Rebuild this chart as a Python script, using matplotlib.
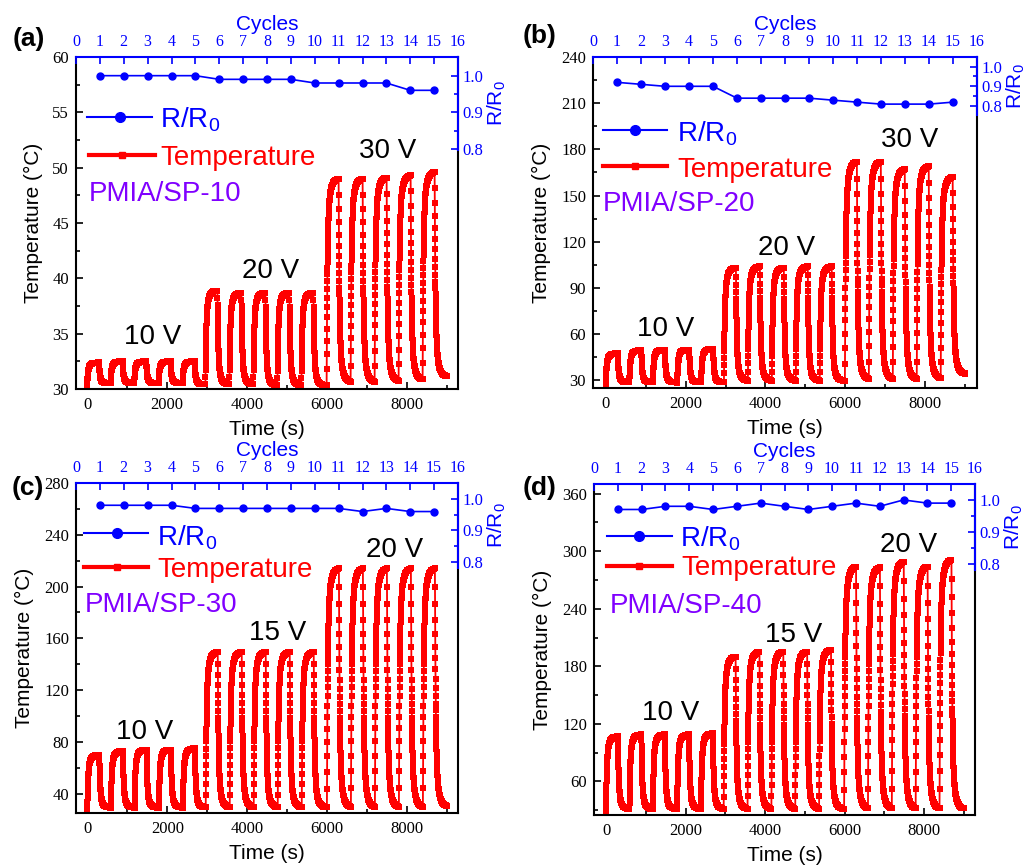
import numpy as np
import matplotlib
matplotlib.use("Agg")
import matplotlib.pyplot as plt
from matplotlib.lines import Line2D
from matplotlib.ticker import MultipleLocator, FixedLocator, FormatStrFormatter

plt.rcParams['font.family'] = ['Liberation Serif', 'DejaVu Serif']
plt.rcParams['axes.unicode_minus'] = False

# ---------------- data ----------------
cycles = list(range(1, 16))
cycle_ticks = list(range(0, 17))

# switch-on times of the 15 heating cycles (s), heating duration and end of record
start_times = [0, 590, 1180, 1790, 2390, 2960, 3560, 4160, 4760, 5360,
               5990, 6590, 7190, 7790, 8390]
heat_duration = 300
end_time = 9000

# R/R0 per cycle
rr_a = [1.00, 1.00, 1.00, 1.00, 1.00, 0.99, 0.99, 0.99, 0.99, 0.98, 0.98, 0.98, 0.98, 0.96, 0.96]
rr_b = [0.92, 0.91, 0.90, 0.90, 0.90, 0.84, 0.84, 0.84, 0.84, 0.83, 0.82, 0.81, 0.81, 0.81, 0.82]
rr_c = [0.98, 0.98, 0.98, 0.98, 0.97, 0.97, 0.97, 0.97, 0.97, 0.97, 0.97, 0.96, 0.97, 0.96, 0.96]
rr_d = [0.97, 0.97, 0.98, 0.98, 0.97, 0.98, 0.99, 0.98, 0.97, 0.98, 0.99, 0.98, 1.00, 0.99, 0.99]

# temperature: initial value, peak of each cycle, value reached at end of each cooling
t0_a = 30.0
peak_a = [32.4, 32.5, 32.5, 32.5, 32.5, 38.9, 38.7, 38.7, 38.7, 38.7, 49.0, 49.0, 49.1, 49.3, 49.6]
floor_a = [30.5, 30.5, 30.5, 30.5, 30.4, 30.4, 30.4, 30.3, 30.3, 30.3, 30.6, 30.6, 30.7, 30.8, 31.1]

t0_b = 27.0
peak_b = [47.5, 49.5, 50.0, 50.0, 50.5, 103, 104, 103, 104, 104, 172, 172, 167, 169, 162]
floor_b = [28.5, 28.5, 28.5, 28.5, 28.5, 29.5, 29.5, 29.5, 29.5, 29.5, 30.5, 30.5, 30.5, 31.0, 34.0]

t0_c = 27.0
peak_c = [70, 73, 74, 74, 75, 149.5, 149.5, 149.5, 149.5, 149.5, 214, 214, 214, 214, 214]
floor_c = [29, 29, 29, 29, 29, 29, 29, 29, 29, 29, 29, 29, 29, 29, 30]

t0_d = 26.0
peak_d = [107, 109, 109, 109, 110, 190, 195, 195, 195, 197, 284, 283, 289, 284, 291]
floor_d = [31, 31, 31, 31, 31, 31, 31, 31, 31, 31, 31, 31, 31, 31, 31]

panel_tags = ['(a)', '(b)', '(c)', '(d)']
sample_names = ['PMIA/SP-10', 'PMIA/SP-20', 'PMIA/SP-30', 'PMIA/SP-40']
volt_labels = [['10 V', '20 V', '30 V'], ['10 V', '20 V', '30 V'],
               ['10 V', '15 V', '20 V'], ['10 V', '15 V', '20 V']]
volt_pos = [[(1637, 34.7), (4595, 40.65), (7525, 51.5)],
            [(1499, 63.1), (4529, 116.0), (7619, 185.8)],
            [(1442, 87.7), (4755, 163.8), (7693, 228)],
            [(1630, 131.2), (4730, 212.9), (7623, 306)]]


def build_trace(starts, peaks, floors, temp0, heat, t_end, dt=2.0,
                tau_fast=20.0, tau_slow=70.0, w_fast=0.75):
    """Sampled heating/cooling record from per-cycle peak and end values."""
    ts, Ts = [], []
    prev = temp0
    for i, (s, pk, fl) in enumerate(zip(starts, peaks, floors)):
        nxt = starts[i + 1] if i + 1 < len(starts) else t_end
        th = np.arange(0, heat, dt)
        rise = 1 - w_fast * np.exp(-th / tau_fast) - (1 - w_fast) * np.exp(-th / tau_slow)
        rise = rise / rise[-1]
        Th = prev + (pk - prev) * rise
        tc = np.arange(0, nxt - s - heat, dt)
        fall = w_fast * np.exp(-tc / tau_fast) + (1 - w_fast) * np.exp(-tc / tau_slow)
        Tc = fl + (pk - fl) * fall
        ts.append(s + th)
        Ts.append(Th)
        ts.append(s + heat + tc)
        Ts.append(Tc)
        prev = Tc[-1]
    return np.concatenate(ts), np.concatenate(Ts)


# ---------------- layout ----------------
W, H = 1027, 866
fig = plt.figure(figsize=(W / 100, H / 100), dpi=100)
BLUE = '#0000FF'
RED = '#FF0000'
PURPLE = '#8000FF'
SANS = 'Liberation Sans'


def frac_rect(x0, y0, x1, y1):
    return [x0 / W, 1 - y1 / H, (x1 - x0) / W, (y1 - y0) / H]


def fx(x):
    return x / W


def fy(y):
    return 1 - y / H


panels = [
    dict(box=(76, 57, 458, 389), xlim=(-275, 9275), ylim=(30, 60), ymaj=5, ymin=2.5,
         rr_bottom=150, rr_ylim=(0.797, 1.051), data=(t0_a, peak_a, floor_a), rr=rr_a,
         leg=dict(rl=(87, 152, 117, 120), rt=(160, 128), tl=(89, 155, 155, 122), tt=(160, 165), pm=(89, 201)),
         tag=(13, 39)),
    dict(box=(593, 57, 977, 388), xlim=(-320, 9300), ylim=(25, 240), ymaj=30, ymin=15,
         rr_bottom=115, rr_ylim=(0.755, 1.048), data=(t0_b, peak_b, floor_b), rr=rr_b,
         leg=dict(rl=(603, 667, 130, 635), rt=(677, 141.7), tl=(603, 667, 165.7, 635), tt=(677, 176.7), pm=(603, 211)),
         tag=(523, 36)),
    dict(box=(76, 483, 458, 813), xlim=(-283, 9268), ylim=(25, 280), ymaj=40, ymin=20,
         rr_bottom=568, rr_ylim=(0.78, 1.051), data=(t0_c, peak_c, floor_c), rr=rr_c,
         leg=dict(rl=(84, 148, 533.3, 116.7), rt=(157, 545), tl=(84, 148, 566.7, 116.7), tt=(157, 576.7), pm=(85, 611.7)),
         tag=(12, 487.5)),
    dict(box=(594, 484, 975, 815), xlim=(-302, 9283), ylim=(25, 370), ymaj=60, ymin=30,
         rr_bottom=570, rr_ylim=(0.78, 1.05), data=(t0_d, peak_d, floor_d), rr=rr_d,
         leg=dict(rl=(607, 672, 536, 639), rt=(680, 546.7), tl=(607, 672, 566, 639), tt=(681, 575), pm=(610, 613.3)),
         tag=(523, 487.5)),
]

for k, p in enumerate(panels):
    x0, y0, x1, y1 = p['box']
    ax = fig.add_axes(frac_rect(x0, y0, x1, y1))
    temp0, peaks, floors = p['data']
    t, T = build_trace(start_times, peaks, floors, temp0, heat_duration, end_time)
    ax.plot(t, T, color=RED, lw=1.3, marker='s', ms=5.0, mew=0, zorder=2)
    ax.set_xlim(*p['xlim'])
    ax.set_ylim(*p['ylim'])
    ax.xaxis.set_major_locator(MultipleLocator(2000))
    ax.xaxis.set_minor_locator(MultipleLocator(1000))
    ax.yaxis.set_major_locator(MultipleLocator(p['ymaj']))
    ax.yaxis.set_minor_locator(MultipleLocator(p['ymin']))
    ax.tick_params(which='both', direction='in', top=False, right=False, labelsize=12, width=1.2)
    ax.tick_params(which='major', length=5)
    ax.tick_params(which='minor', length=3)
    ax.tick_params(axis='x', pad=6)
    ax.tick_params(axis='y', pad=5)
    ax.spines['top'].set_visible(False)
    for s in ['left', 'bottom', 'right']:
        ax.spines[s].set_linewidth(1.5)
    ax.set_xlabel('Time (s)', fontfamily=SANS, fontsize=15, labelpad=5)
    ax.set_ylabel('Temperature (°C)', fontfamily=SANS, fontsize=15, labelpad=7)

    for (tx, ty), lab in zip(volt_pos[k], volt_labels[k]):
        ax.text(tx, ty, lab, ha='center', va='center', fontsize=20, fontfamily=SANS, color='black')

    # R/R0 layer (top part, with Cycles axis on top)
    ax2 = fig.add_axes(frac_rect(x0, y0, x1, p['rr_bottom']))
    ax2.patch.set_visible(False)
    ax2.plot(cycles, p['rr'], color=BLUE, marker='o', ms=5, lw=1.2, clip_on=False)
    ax2.set_xlim(0, 16)
    ax2.set_ylim(*p['rr_ylim'])
    ax2.xaxis.set_ticks_position('top')
    ax2.xaxis.set_label_position('top')
    ax2.yaxis.set_ticks_position('right')
    ax2.yaxis.set_label_position('right')
    ax2.set_xticks(cycle_ticks)
    ax2.yaxis.set_major_locator(FixedLocator([0.8, 0.9, 1.0]))
    ax2.yaxis.set_minor_locator(FixedLocator([0.85, 0.95]))
    ax2.yaxis.set_major_formatter(FormatStrFormatter('%.1f'))
    for s in ['left', 'bottom']:
        ax2.spines[s].set_visible(False)
    for s in ['top', 'right']:
        ax2.spines[s].set_color(BLUE)
        ax2.spines[s].set_linewidth(1.5)
    ax2.tick_params(which='both', direction='in', colors=BLUE, width=1.2)
    ax2.tick_params(which='major', length=5)
    ax2.tick_params(which='minor', length=3)
    ax2.tick_params(axis='x', labelsize=11.5, pad=5)
    ax2.tick_params(axis='y', labelsize=12, pad=3)
    ax2.set_xlabel('Cycles', fontfamily=SANS, fontsize=15, color=BLUE, labelpad=3)
    ax2.set_ylabel('R/R$\\mathregular{_0}$', fontfamily=SANS, fontsize=15, color=BLUE, labelpad=2)

    # legend drawn in figure coordinates
    lg = p['leg']
    lx0, lx1, ly, lm = lg['rl']
    fig.add_artist(Line2D([fx(lx0), fx(lx1)], [fy(ly), fy(ly)], transform=fig.transFigure,
                          color=BLUE, lw=1.5))
    fig.add_artist(Line2D([fx(lm)], [fy(ly)], transform=fig.transFigure, color=BLUE,
                          marker='o', ms=7, lw=0))
    fig.text(fx(lg['rt'][0]), fy(lg['rt'][1]), 'R/R$\\mathregular{_0}$', fontfamily=SANS,
             fontsize=20, color=BLUE, ha='left', va='baseline')
    lx0, lx1, ly, lm = lg['tl']
    fig.add_artist(Line2D([fx(lx0), fx(lx1)], [fy(ly), fy(ly)], transform=fig.transFigure,
                          color=RED, lw=3))
    fig.add_artist(Line2D([fx(lm)], [fy(ly)], transform=fig.transFigure, color=RED,
                          marker='s', ms=4.5, lw=0))
    fig.text(fx(lg['tt'][0]), fy(lg['tt'][1]), 'Temperature', fontfamily=SANS,
             fontsize=20, color=RED, ha='left', va='baseline')
    fig.text(fx(lg['pm'][0]), fy(lg['pm'][1]), sample_names[k], fontfamily=SANS,
             fontsize=20, color=PURPLE, ha='left', va='baseline')

    fig.text(fx(p['tag'][0]), fy(p['tag'][1]), panel_tags[k], fontfamily=SANS,
             fontsize=19, fontweight='bold', ha='left', va='center')

fig.savefig('out.png', dpi=100)
